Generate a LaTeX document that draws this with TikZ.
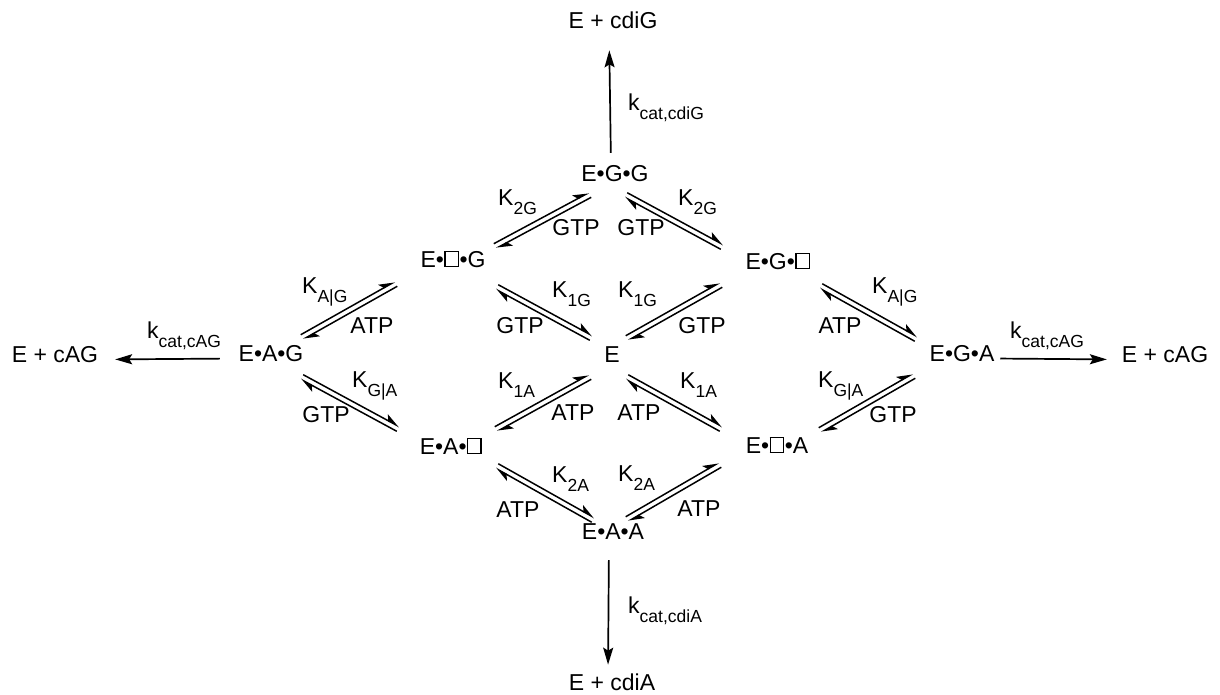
\documentclass[tikz,border=0pt]{standalone}
\usepackage{fontspec}
\setmainfont{Liberation Sans}
\usetikzlibrary{arrows.meta,calc}

% empty binding site drawn as an open square of cap height
\newcommand\vacant{\kern0.5pt\raisebox{1.2pt}{\setlength\fboxsep{0pt}\setlength\fboxrule{1.3pt}\fbox{\rule{0pt}{14pt}\rule{12pt}{0pt}}}\kern0.5pt}
% low-set subscript for rate and binding constants
\newcommand\sub[1]{\raisebox{-9pt}{\fontsize{17.5}{20}\selectfont #1}}
% pair of opposed half-arrows between two named points
\newcommand\equil[2]{%
  \draw[harp] ($(#1)!2.6pt!90:(#2)$) -- ($(#2)!2.6pt!-90:(#1)$);
  \draw[harp] ($(#2)!2.6pt!90:(#1)$) -- ($(#1)!2.6pt!-90:(#2)$);}

\tikzset{
  species/.style={inner sep=0pt, font=\fontsize{23}{27}\selectfont},
  cof/.style={inner sep=0pt, font=\fontsize{23}{27}\selectfont},
  lbl/.style={inner sep=0pt, anchor=base west, font=\fontsize{23}{27}\selectfont},
  rxn/.style={line width=1.7pt, -{Stealth[length=17pt,width=10pt,inset=3pt]}},
  harp/.style={line width=1.5pt, -{Stealth[harpoon,length=14pt,width=11pt,inset=3.5pt]}},
}

\begin{document}
\begin{tikzpicture}[x=1pt,y=-1pt]
\useasboundingbox (0,0) rectangle (1220,694);

% enzyme states
\node[species] (top)  at (613,20)  {E + cdiG};
\node[species] (EGG)  at (615,174) {E•G•G};
\node[species] (EsG)  at (453,259) {E•\vacant•G};
\node[species] (EGs)  at (778,261) {E•G•\vacant};
\node[species] (EAG)  at (271,354) {E•A•G};
\node[species] (E)    at (612,355) {E};
\node[species] (EGA)  at (962,354) {E•G•A};
\node[species] (EAs)  at (451,446) {E•A•\vacant};
\node[species] (EsA)  at (777,445) {E•\vacant•A};
\node[species] (EAA)  at (613,532) {E•A•A};
\node[species] (bot)  at (612,682) {E + cdiA};
\node[species] (left) at (55,355)  {E + cAG};
\node[species] (right) at (1165,355) {E + cAG};

% catalytic steps
\draw[rxn, shorten <=12.75pt, shorten >=21.7pt] ([xshift=-4pt]EGG.north) -- ([xshift=-4pt]top.south);
\draw[rxn, shorten <=20pt, shorten >=8.7pt] ([xshift=-4pt]EAA.south) -- ([xshift=-4pt]bot.north);
\draw[rxn, shorten <=18.7pt, shorten >=16.8pt] ([yshift=-4.5pt]EAG.west) -- ([yshift=-4.5pt]left.east);
\draw[rxn, shorten <=5.7pt, shorten >=14.8pt] ([yshift=-4.5pt]EGA.east) -- ([yshift=-4.5pt]right.west);

\node[lbl] (kTop)   at (628,110)  {k\sub{cat,cdiG}};
\node[lbl] (kBot)   at (628,613)  {k\sub{cat,cdiA}};
\node[lbl] (kLeft)  at (147,338)  {k\sub{cat,cAG}};
\node[lbl] (kRight) at (1010,338) {k\sub{cat,cAG}};

% binding equilibria
\coordinate (a1)  at ($(EsG)+(42,-13)$);  \coordinate (b1)  at ($(EGG)+(-25,21)$);
\coordinate (a2)  at ($(EGG)+(11,21)$);   \coordinate (b2)  at ($(EGs)+(-56,-14)$);
\coordinate (a3)  at ($(EAG)+(31,-17)$);  \coordinate (b3)  at ($(EsG)+(-57,25)$);
\coordinate (a4)  at ($(EsG)+(44,28)$);   \coordinate (b4)  at ($(E)+(-21,-17)$);
\coordinate (a5)  at ($(E)+(15,-17)$);    \coordinate (b5)  at ($(EGs)+(-57,24)$);
\coordinate (a6)  at ($(EGs)+(43,25)$);   \coordinate (b6)  at ($(EGA)+(-46,-15)$);
\coordinate (a7)  at ($(EAG)+(31,23)$);   \coordinate (b7)  at ($(EAs)+(-53,-17)$);
\coordinate (a8)  at ($(EAs)+(45,-17)$);  \coordinate (b8)  at ($(E)+(-22,22)$);
\coordinate (a9)  at ($(E)+(15,22)$);     \coordinate (b9)  at ($(EsA)+(-56,-16)$);
\coordinate (a10) at ($(EsA)+(43,-15)$);  \coordinate (b10) at ($(EGA)+(-48,22)$);
\coordinate (a11) at ($(EAs)+(46,20)$);   \coordinate (b11) at ($(EAA)+(-20,-12)$);
\coordinate (a12) at ($(EsA)+(-57,20)$);  \coordinate (b12) at ($(EAA)+(14,-13)$);
\foreach \i in {1,...,12} {\equil{a\i}{b\i}}

% binding constants
\node[lbl] (K2Gl)  at (498,205) {K\sub{2G}};
\node[lbl] (K2Gr)  at (678,205) {K\sub{2G}};
\node[lbl] (KAGl)  at (302,293) {K\sub{A|G}};
\node[lbl] (K1Gl)  at (552,297) {K\sub{1G}};
\node[lbl] (K1Gr)  at (618,297) {K\sub{1G}};
\node[lbl] (KAGr)  at (872,293) {K\sub{A|G}};
\node[lbl] (KGAl)  at (352,387) {K\sub{G|A}};
\node[lbl] (K1Al)  at (498,388) {K\sub{1A}};
\node[lbl] (K1Ar)  at (680,388) {K\sub{1A}};
\node[lbl] (KGAr)  at (818,387) {K\sub{G|A}};
\node[lbl] (K2Al)  at (552,482) {K\sub{2A}};
\node[lbl] (K2Ar)  at (618,481) {K\sub{2A}};

% bound nucleotides
\node[cof] (n1)  at (576,228) {GTP};
\node[cof] (n2)  at (641,228) {GTP};
\node[cof] (n3)  at (372,326) {ATP};
\node[cof] (n4)  at (520,326) {GTP};
\node[cof] (n5)  at (702,326) {GTP};
\node[cof] (n6)  at (840,326) {ATP};
\node[cof] (n7)  at (326,415) {GTP};
\node[cof] (n8)  at (573,413) {ATP};
\node[cof] (n9)  at (639,413) {ATP};
\node[cof] (n10) at (893,415) {GTP};
\node[cof] (n11) at (518,510) {ATP};
\node[cof] (n12) at (699,509) {ATP};
\end{tikzpicture}
\end{document}
